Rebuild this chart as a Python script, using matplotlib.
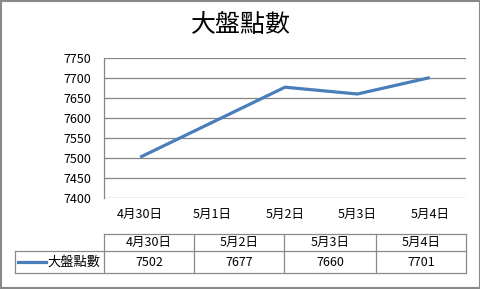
import matplotlib
matplotlib.use("Agg")
import matplotlib.pyplot as plt
from matplotlib.patches import Rectangle
from matplotlib.lines import Line2D
import numpy as np

plt.rcParams['font.family'] = ['Noto Sans CJK TC', 'DejaVu Sans']

title = "大盤點數"
categories = ["4月30日", "5月1日", "5月2日", "5月3日", "5月4日"]
data_dates = ["4月30日", "5月2日", "5月3日", "5月4日"]
values = [7502, 7677, 7660, 7701]
yticks = [7400, 7450, 7500, 7550, 7600, 7650, 7700, 7750]

W, H = 481, 289
fig = plt.figure(figsize=(W / 100, H / 100), dpi=100)

def fx(px):
    return px / W

def fy(py):
    return 1 - py / H

# outer border
fig.patches.append(Rectangle((1.0 / W, 1.0 / H), (W - 2.0) / W, (H - 2.0) / H,
                             transform=fig.transFigure, fill=False,
                             edgecolor='#898989', linewidth=1.5))

left, right, top, bottom = 104, 466, 58, 198
ax = fig.add_axes([fx(left), fy(bottom), (right - left) / W, (bottom - top) / H])

xpos = [categories.index(d) for d in data_dates]
ax.plot(xpos, values, color='#4A7EBB', linewidth=2.3, solid_capstyle='butt')

ax.set_xlim(-0.5, len(categories) - 0.5)
ax.set_ylim(yticks[0], yticks[-1])
ax.set_yticks(yticks)
ax.set_xticks(range(len(categories)))
ax.set_xticklabels(categories)
ax.yaxis.grid(True, color='#868686', linewidth=0.9)
ax.set_axisbelow(True)
for s in ['top', 'right', 'bottom']:
    ax.spines[s].set_visible(False)
ax.spines['left'].set_color('#868686')
ax.spines['left'].set_linewidth(0.9)
ax.tick_params(axis='both', length=0, labelsize=9, colors='black')
ax.tick_params(axis='y', pad=9)
ax.tick_params(axis='x', pad=7)

fig.text(0.5, fy(25), title, ha='center', va='center', fontsize=18,
         color='black')

# data table
col_edges = [104, 194, 284, 376, 466]
label_left = 15
hdr_top, hdr_bot, row_bot = 234, 251, 273
gc = '#8a8a8a'

def hline(x0, x1, y):
    fig.lines.append(Line2D([fx(x0), fx(x1)], [fy(y), fy(y)], transform=fig.transFigure,
                            color=gc, linewidth=0.9))

def vline(x, y0, y1):
    fig.lines.append(Line2D([fx(x), fx(x)], [fy(y0), fy(y1)], transform=fig.transFigure,
                            color=gc, linewidth=0.9))

hline(col_edges[0], col_edges[-1], hdr_top)
hline(label_left, col_edges[-1], hdr_bot)
hline(label_left, col_edges[-1], row_bot)
for x in col_edges:
    vline(x, hdr_top, row_bot)
vline(label_left, hdr_bot, row_bot)

for i, (d, v) in enumerate(zip(data_dates, values)):
    cx = (col_edges[i] + col_edges[i + 1]) / 2
    fig.text(fx(cx), fy((hdr_top + hdr_bot) / 2), d, ha='center', va='center', fontsize=9)
    fig.text(fx(cx), fy((hdr_bot + row_bot) / 2), str(v), ha='center', va='center', fontsize=9)

ly = (hdr_bot + row_bot) / 2
fig.lines.append(Line2D([fx(18), fx(46)], [fy(ly), fy(ly)], transform=fig.transFigure,
                        color='#4A7EBB', linewidth=2.3))
fig.text(fx(47), fy(ly), title, ha='left', va='center', fontsize=9.5)

fig.savefig("out.png", dpi=100)
